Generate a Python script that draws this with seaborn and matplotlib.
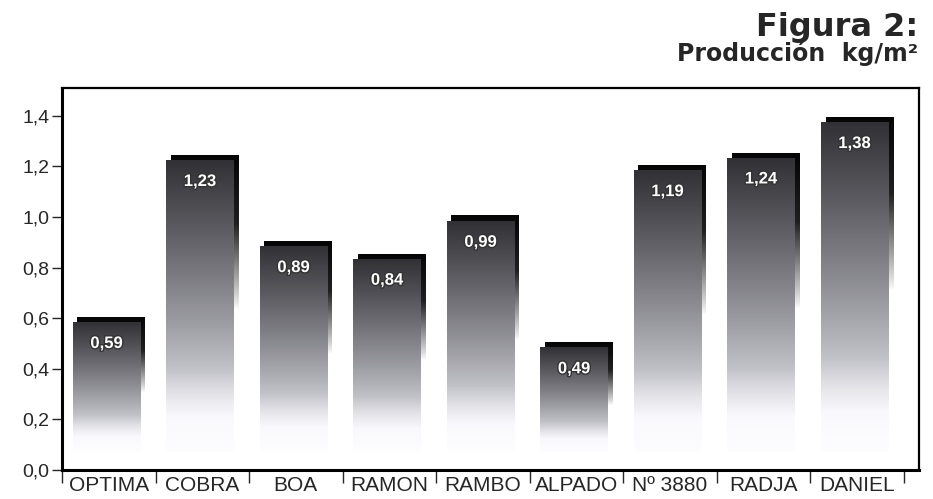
import numpy as np
import pandas as pd
import matplotlib
matplotlib.use("Agg")
import matplotlib.pyplot as plt
import matplotlib.patheffects as pe
import seaborn as sns

# data
variedades = ["OPTIMA", "COBRA", "BOA", "RAMON", "RAMBO", "ALPADO", "Nº 3880", "RADJA", "DANIEL"]
produccion = [0.59, 1.23, 0.89, 0.84, 0.99, 0.49, 1.19, 1.24, 1.38]
etiquetas = ["0,59", "1,23", "0,89", "0,84", "0,99", "0,49", "1,19", "1,24", "1,38"]
yticks = [0.0, 0.2, 0.4, 0.6, 0.8, 1.0, 1.2, 1.4]
ytick_labels = ["0,0", "0,2", "0,4", "0,6", "0,8", "1,0", "1,2", "1,4"]

df = pd.DataFrame({"variedad": variedades, "kg": produccion})

sns.set_style("white")
plt.rcParams["font.family"] = ["Liberation Sans", "DejaVu Sans"]

fig = plt.figure(figsize=(9.33, 4.99), dpi=100)
ax = fig.add_axes([0.0665, 0.058, 0.918, 0.766])

sns.barplot(data=df, x="variedad", y="kg", color="white", width=0.77, ax=ax)

# gradient images, dark at top fading to white near the bottom
def grad_img(top_rgb, bot_rgb, fade_frac, alpha_fade=False):
    n = 256
    t = np.linspace(1, 0, n)  # 1 = top
    img = np.zeros((n, 1, 4))
    s = np.clip((t - fade_frac) / (1 - fade_frac), 0, 1) ** 0.8
    for c in range(3):
        img[:, 0, c] = bot_rgb[c] + (top_rgb[c] - bot_rgb[c]) * s
    if alpha_fade:
        img[:, 0, 3] = np.clip(s * 1.6, 0, 1)
    else:
        img[:, 0, 3] = np.clip(0.15 + t * 3, 0, 1)
    return img

dx = 0.05
dy = 0.022
for p, lab in zip(ax.patches, etiquetas):
    x0 = p.get_x()
    w = p.get_width()
    h = p.get_height()
    p.set_visible(False)
    # back shadow
    sh = grad_img((0.02, 0.02, 0.02), (0.3, 0.3, 0.3), 0.35, alpha_fade=True)
    ax.imshow(sh, extent=(x0 + dx, x0 + w, 0.25 * h, h + dy * 0.6),
              aspect="auto", zorder=2, interpolation="bilinear")
    # front face
    fr = grad_img((0.19, 0.19, 0.21), (0.96, 0.96, 0.99), 0.12)
    ax.imshow(fr, extent=(x0, x0 + w - dx, 0.07, h - dy * 0.4),
              aspect="auto", zorder=3, interpolation="bilinear")
    ax.text(x0 + (w - dx) / 2, h - 0.09, lab, ha="center", va="center",
            color="white", fontsize=12, fontweight="bold", zorder=4,
            path_effects=[pe.withStroke(linewidth=2, foreground="#333333")])

ax.set_xlim(-0.5, 8.66)
ax.set_ylim(0, 1.51)
ax.set_yticks(yticks)
ax.set_yticklabels(ytick_labels, fontsize=14)
ax.set_xticks(range(len(variedades)))
ax.set_xticklabels(variedades, fontsize=15)
ax.set_xticks(np.arange(-0.5, len(variedades) + 0.5, 1), minor=True)
ax.tick_params(axis="x", which="major", length=0, pad=4)
ax.tick_params(axis="x", which="minor", length=9, width=1, direction="out", bottom=True)
ax.tick_params(axis="y", length=7, width=1, direction="out", left=True, pad=2)
ax.set_xlabel("")
ax.set_ylabel("")
for s in ax.spines.values():
    s.set_visible(True)
    s.set_color("black")
    s.set_linewidth(1.6)
ax.spines["left"].set_linewidth(2.2)
ax.spines["bottom"].set_linewidth(2.2)

fig.text(0.984, 0.928, "Figura 2:", ha="right", va="baseline",
         fontsize=23, fontweight="bold", family="DejaVu Sans")
fig.text(0.984, 0.878, "Producción  kg/m²", ha="right", va="baseline",
         fontsize=17, fontweight="bold", family="DejaVu Sans")

fig.savefig("out.png", dpi=100)
